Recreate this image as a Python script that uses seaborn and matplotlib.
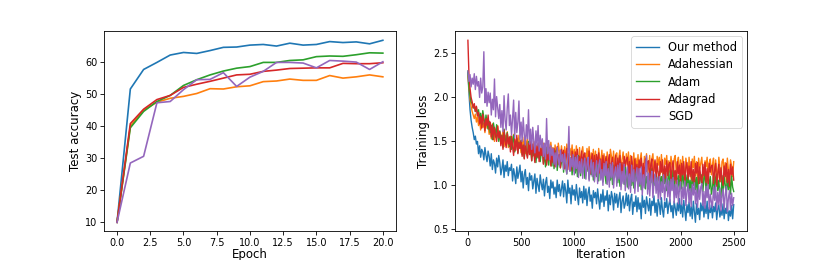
import matplotlib
matplotlib.use("Agg")
import matplotlib.pyplot as plt
import seaborn as sns

# ---------------- data ----------------
methods = ["Our method", "Adahessian", "Adam", "Adagrad", "SGD"]
colors = ["#1f77b4", "#ff7f0e", "#2ca02c", "#d62728", "#9467bd"]

epochs = list(range(0, 21))
acc_ours = [10.0, 51.6, 57.7, 59.9, 62.2, 63.0, 62.7, 63.6, 64.6, 64.7, 65.3,
            65.5, 65.0, 65.9, 65.3, 65.5, 66.4, 66.1, 66.3, 65.7, 66.8]
acc_adahessian = [10.0, 40.0, 45.0, 47.5, 48.7, 49.3, 50.2, 51.7, 51.6, 52.3, 52.6,
                  53.9, 54.1, 54.7, 54.3, 54.3, 55.8, 55.0, 55.4, 56.0, 55.4]
acc_adam = [10.0, 39.5, 44.6, 47.7, 49.6, 52.7, 54.5, 56.0, 57.2, 58.1, 58.6,
            59.9, 59.9, 60.5, 60.7, 61.7, 61.9, 61.8, 62.3, 62.9, 62.8]
acc_adagrad = [10.0, 40.8, 45.3, 48.3, 49.6, 52.1, 53.1, 54.0, 55.0, 56.0, 56.2,
               57.1, 57.5, 58.0, 58.1, 58.2, 58.2, 59.6, 59.5, 59.5, 59.8]
acc_sgd = [10.0, 28.5, 30.6, 47.3, 47.7, 51.4, 54.5, 54.6, 56.7, 52.4, 55.3,
           57.1, 59.9, 59.9, 59.7, 58.2, 60.5, 60.3, 60.0, 57.7, 60.1]

iterations = list(range(0, 2501, 10))
loss_ours = [
    2.28, 2.05, 1.86, 1.74, 1.66, 1.60, 1.52, 1.56, 1.47, 1.50,
    1.36, 1.45, 1.32, 1.41, 1.38, 1.29, 1.43, 1.34, 1.27, 1.39,
    1.33, 1.22, 1.36, 1.18, 1.29, 1.25, 1.14, 1.31, 1.21, 1.34,
    1.26, 1.12, 1.19, 1.29, 1.09, 1.23, 1.16, 1.27, 1.11, 1.20,
    1.17, 1.24, 1.05, 1.19, 1.12, 1.02, 1.21, 1.08, 1.15, 1.23,
    1.04, 1.16, 0.97, 1.12, 1.18, 1.01, 1.09, 0.94, 1.14, 1.06,
    1.11, 0.96, 1.05, 1.13, 0.91, 1.08, 1.00, 0.93, 1.12, 1.02,
    0.95, 1.07, 0.88, 1.03, 1.09, 0.92, 0.99, 0.85, 1.06, 0.97,
    1.04, 0.90, 0.98, 0.86, 1.06, 0.93, 1.01, 0.88, 0.96, 1.05,
    0.87, 1.02, 0.94, 0.80, 1.06, 0.91, 0.97, 0.79, 1.00, 0.89,
    0.95, 0.83, 1.01, 0.88, 0.78, 0.97, 0.86, 0.93, 0.80, 0.99,
    0.84, 0.96, 0.77, 0.91, 0.98, 0.82, 0.89, 0.74, 0.94, 0.86,
    0.92, 0.79, 0.96, 0.85, 0.73, 0.90, 0.81, 0.95, 0.76, 0.88,
    0.83, 0.94, 0.71, 0.89, 0.78, 0.93, 0.86, 0.72, 0.91, 0.80,
    0.90, 0.75, 0.85, 0.92, 0.69, 0.82, 0.88, 0.74, 0.79, 0.91,
    0.77, 0.89, 0.71, 0.84, 0.90, 0.67, 0.81, 0.76, 0.88, 0.70,
    0.86, 0.73, 0.80, 0.62, 0.89, 0.75, 0.83, 0.68, 0.87, 0.78,
    0.71, 0.85, 0.66, 0.82, 0.77, 0.88, 0.69, 0.80, 0.65, 0.84,
    0.79, 0.67, 0.86, 0.72, 0.64, 0.81, 0.75, 0.85, 0.68, 0.78,
    0.84, 0.70, 0.77, 0.63, 0.82, 0.74, 0.66, 0.80, 0.71, 0.85,
    0.68, 0.79, 0.64, 0.83, 0.72, 0.60, 0.78, 0.69, 0.81, 0.65,
    0.76, 0.62, 0.82, 0.70, 0.58, 0.79, 0.67, 0.74, 0.61, 0.80,
    0.71, 0.81, 0.64, 0.77, 0.68, 0.82, 0.62, 0.75, 0.69, 0.78,
    0.63, 0.76, 0.70, 0.80, 0.61, 0.73, 0.78, 0.64, 0.72, 0.66,
    0.79, 0.62, 0.74, 0.68, 0.80, 0.60, 0.71, 0.65, 0.77, 0.62,
    0.78]
loss_adahessian = [
    2.25, 2.10, 1.98, 1.90, 1.84, 1.80, 1.76, 1.81, 1.72, 1.78,
    1.68, 1.75, 1.63, 1.79, 1.66, 1.71, 1.60, 1.74, 1.65, 1.69,
    1.58, 1.67, 1.53, 1.70, 1.61, 1.50, 1.64, 1.56, 1.68, 1.52,
    1.60, 1.47, 1.55, 1.62, 1.44, 1.57, 1.50, 1.61, 1.43, 1.53,
    1.56, 1.42, 1.51, 1.58, 1.39, 1.49, 1.54, 1.41, 1.57, 1.46,
    1.37, 1.52, 1.44, 1.55, 1.36, 1.48, 1.53, 1.40, 1.50, 1.35,
    1.47, 1.33, 1.50, 1.39, 1.31, 1.46, 1.42, 1.49, 1.32, 1.44,
    1.36, 1.48, 1.30, 1.45, 1.40, 1.29, 1.47, 1.34, 1.49, 1.38,
    1.43, 1.28, 1.46, 1.35, 1.27, 1.48, 1.39, 1.31, 1.45, 1.33,
    1.30, 1.44, 1.26, 1.47, 1.37, 1.25, 1.42, 1.34, 1.46, 1.29,
    1.41, 1.24, 1.45, 1.32, 1.27, 1.43, 1.23, 1.38, 1.44, 1.28,
    1.35, 1.21, 1.42, 1.30, 1.44, 1.20, 1.37, 1.26, 1.41, 1.23,
    1.39, 1.25, 1.18, 1.42, 1.31, 1.22, 1.40, 1.19, 1.36, 1.28,
    1.20, 1.38, 1.27, 1.16, 1.41, 1.33, 1.21, 1.39, 1.17, 1.35,
    1.37, 1.19, 1.32, 1.40, 1.14, 1.29, 1.38, 1.22, 1.16, 1.36,
    1.24, 1.38, 1.15, 1.34, 1.27, 1.13, 1.37, 1.20, 1.31, 1.18,
    1.35, 1.12, 1.29, 1.37, 1.18, 1.11, 1.33, 1.25, 1.36, 1.14,
    1.21, 1.34, 1.10, 1.30, 1.36, 1.16, 1.27, 1.09, 1.33, 1.23,
    1.32, 1.13, 1.35, 1.19, 1.08, 1.31, 1.24, 1.34, 1.11, 1.28,
    1.15, 1.33, 1.22, 1.07, 1.30, 1.34, 1.12, 1.26, 1.32, 1.09,
    1.29, 1.10, 1.33, 1.18, 1.06, 1.31, 1.23, 1.08, 1.32, 1.16,
    1.07, 1.30, 1.20, 1.33, 1.11, 1.27, 1.05, 1.31, 1.19, 1.25,
    1.32, 1.14, 1.06, 1.28, 1.21, 1.32, 1.09, 1.26, 1.30, 1.12,
    1.24, 1.31, 1.05, 1.29, 1.16, 1.08, 1.32, 1.20, 1.04, 1.27,
    1.30, 1.13, 1.26, 1.04, 1.31, 1.18, 1.07, 1.29, 1.22, 1.10,
    1.27]
loss_adam = [
    2.30, 2.12, 2.02, 1.95, 1.93, 1.88, 1.91, 1.84, 1.89, 1.80,
    1.86, 1.74, 1.82, 1.69, 1.85, 1.77, 1.66, 1.80, 1.72, 1.64,
    1.73, 1.60, 1.68, 1.52, 1.71, 1.63, 1.55, 1.69, 1.58, 1.50,
    1.62, 1.49, 1.57, 1.43, 1.64, 1.53, 1.46, 1.60, 1.51, 1.44,
    1.55, 1.41, 1.50, 1.57, 1.38, 1.47, 1.53, 1.37, 1.49, 1.42,
    1.51, 1.35, 1.45, 1.31, 1.48, 1.39, 1.33, 1.50, 1.36, 1.43,
    1.28, 1.44, 1.34, 1.47, 1.26, 1.40, 1.31, 1.45, 1.27, 1.37,
    1.42, 1.25, 1.36, 1.21, 1.43, 1.30, 1.23, 1.39, 1.28, 1.22,
    1.38, 1.19, 1.33, 1.40, 1.17, 1.29, 1.35, 1.20, 1.26, 1.37,
    1.15, 1.34, 1.22, 1.13, 1.36, 1.27, 1.17, 1.32, 1.12, 1.25,
    1.33, 1.14, 1.28, 1.10, 1.34, 1.21, 1.11, 1.30, 1.18, 1.27,
    1.08, 1.29, 1.16, 1.31, 1.07, 1.24, 1.12, 1.28, 1.06, 1.20,
    1.27, 1.10, 1.23, 1.05, 1.29, 1.14, 1.19, 1.04, 1.26, 1.11,
    1.02, 1.24, 1.13, 1.26, 1.06, 1.20, 1.01, 1.23, 1.09, 1.17,
    1.22, 1.03, 1.18, 0.99, 1.24, 1.08, 1.15, 1.01, 1.21, 1.11,
    0.98, 1.20, 1.07, 1.22, 1.00, 1.14, 0.97, 1.19, 1.05, 1.16,
    1.21, 0.99, 1.13, 0.95, 1.18, 1.04, 1.20, 0.96, 1.10, 1.02,
    0.96, 1.17, 1.03, 1.19, 0.94, 1.12, 1.00, 1.18, 0.95, 1.09,
    1.16, 0.98, 1.10, 0.93, 1.18, 1.02, 1.14, 0.94, 1.07, 1.17,
    0.95, 1.13, 1.01, 1.17, 0.92, 1.08, 1.15, 0.97, 1.11, 0.93,
    1.14, 0.96, 1.16, 1.03, 0.91, 1.12, 0.99, 1.15, 0.94, 1.06,
    0.92, 1.13, 1.00, 1.15, 0.95, 1.09, 0.90, 1.14, 1.02, 1.11,
    1.12, 0.93, 1.08, 1.14, 0.91, 1.05, 1.13, 0.96, 1.10, 0.90,
    0.97, 1.12, 0.92, 1.09, 1.13, 0.94, 1.06, 0.88, 0.86, 1.11,
    0.91, 1.10, 1.01, 0.89, 1.12, 0.95, 1.08, 0.90, 1.11, 0.98,
    0.93]
loss_adagrad = [
    2.65, 2.25, 2.10, 2.00, 1.95, 1.88, 1.93, 1.84, 1.90, 1.79,
    1.83, 1.70, 1.78, 1.65, 1.81, 1.73, 1.62, 1.76, 1.68, 1.80,
    1.64, 1.72, 1.55, 1.69, 1.52, 1.66, 1.58, 1.50, 1.67, 1.54,
    1.61, 1.45, 1.57, 1.41, 1.63, 1.50, 1.43, 1.59, 1.47, 1.55,
    1.38, 1.56, 1.44, 1.34, 1.53, 1.40, 1.57, 1.36, 1.49, 1.42,
    1.51, 1.33, 1.46, 1.30, 1.52, 1.38, 1.31, 1.48, 1.35, 1.50,
    1.28, 1.47, 1.36, 1.26, 1.45, 1.32, 1.48, 1.27, 1.42, 1.34,
    1.44, 1.24, 1.39, 1.45, 1.23, 1.37, 1.29, 1.43, 1.22, 1.40,
    1.26, 1.42, 1.21, 1.38, 1.44, 1.24, 1.35, 1.20, 1.41, 1.30,
    1.40, 1.19, 1.33, 1.42, 1.18, 1.36, 1.25, 1.17, 1.39, 1.28,
    1.16, 1.38, 1.27, 1.41, 1.15, 1.33, 1.20, 1.39, 1.22, 1.35,
    1.37, 1.14, 1.31, 1.18, 1.39, 1.13, 1.29, 1.36, 1.17, 1.34,
    1.12, 1.35, 1.24, 1.37, 1.14, 1.30, 1.11, 1.34, 1.21, 1.27,
    1.33, 1.10, 1.28, 1.35, 1.13, 1.25, 1.32, 1.11, 1.19, 1.34,
    1.09, 1.31, 1.17, 1.34, 1.10, 1.26, 1.08, 1.33, 1.22, 1.29,
    1.32, 1.12, 1.27, 1.07, 1.33, 1.18, 1.09, 1.30, 1.14, 1.24,
    1.06, 1.29, 1.20, 1.31, 1.08, 1.25, 1.05, 1.30, 1.16, 1.27,
    1.28, 1.07, 1.23, 1.30, 1.04, 1.19, 1.29, 1.09, 1.25, 1.13,
    1.05, 1.27, 1.15, 1.29, 1.03, 1.22, 1.08, 1.28, 1.11, 1.24,
    1.26, 1.04, 1.21, 1.28, 1.06, 1.17, 1.02, 1.27, 1.13, 1.23,
    1.03, 1.25, 1.12, 1.27, 1.01, 1.20, 1.26, 1.07, 1.22, 1.10,
    1.27, 1.05, 1.18, 1.00, 1.25, 1.14, 1.26, 1.02, 1.21, 1.09,
    1.01, 1.24, 1.11, 1.26, 1.03, 1.19, 1.00, 1.25, 1.15, 1.22,
    1.23, 1.02, 1.17, 1.25, 0.99, 1.13, 1.24, 1.04, 1.20, 1.08,
    1.00, 1.22, 1.10, 1.25, 1.03, 1.18, 0.99, 1.24, 1.12, 1.21,
    1.06]
loss_sgd = [
    2.30, 2.18, 2.26, 2.12, 2.22, 2.15, 2.27, 2.09, 2.24, 2.13,
    2.18, 2.00, 2.22, 2.05, 2.12, 2.52, 1.94, 2.10, 1.90, 2.06,
    1.94, 2.05, 1.80, 1.98, 1.86, 2.21, 1.78, 2.01, 1.88, 1.76,
    1.92, 1.66, 1.85, 1.61, 2.02, 1.74, 1.63, 1.88, 2.04, 1.68,
    1.80, 1.57, 1.76, 1.97, 1.54, 1.83, 1.60, 1.72, 1.96, 1.52,
    1.72, 1.50, 1.77, 1.58, 1.46, 1.69, 1.53, 1.86, 1.47, 1.64,
    1.41, 1.66, 1.50, 1.37, 1.62, 1.45, 1.68, 1.39, 1.57, 1.43,
    1.53, 1.33, 1.48, 1.30, 1.76, 1.36, 1.51, 1.29, 1.45, 1.34,
    1.42, 1.24, 1.37, 1.21, 1.43, 1.30, 1.22, 1.40, 1.27, 1.35,
    1.18, 1.36, 1.25, 1.13, 1.33, 1.67, 1.16, 1.31, 1.21, 1.35,
    1.12, 1.32, 1.19, 1.34, 1.09, 1.27, 1.14, 1.30, 1.08, 1.23,
    1.31, 1.07, 1.24, 1.32, 1.05, 1.20, 1.29, 1.10, 1.26, 1.04,
    1.15, 1.28, 1.02, 1.22, 1.29, 1.06, 1.18, 1.00, 1.25, 1.11,
    1.27, 1.01, 1.19, 0.98, 1.24, 1.09, 1.26, 0.97, 1.14, 1.21,
    0.99, 1.23, 1.07, 1.25, 0.95, 1.16, 1.02, 1.24, 0.94, 1.12,
    1.21, 0.96, 1.13, 0.92, 1.23, 1.04, 1.18, 0.91, 1.10, 1.20,
    0.93, 1.19, 1.01, 1.21, 0.89, 1.12, 0.97, 1.17, 1.34, 0.90,
    1.14, 0.88, 1.07, 1.16, 0.86, 1.02, 1.13, 0.91, 1.09, 0.85,
    1.10, 0.84, 1.04, 0.92, 1.12, 0.83, 0.99, 1.08, 0.87, 1.05,
    0.81, 1.07, 0.94, 1.09, 0.80, 1.01, 0.86, 1.06, 0.79, 0.97,
    1.04, 0.78, 0.98, 0.85, 1.05, 0.77, 0.93, 1.02, 0.80, 0.96,
    0.76, 1.01, 0.89, 1.03, 0.79, 0.95, 0.75, 1.00, 0.84, 0.98,
    1.02, 0.77, 0.93, 0.74, 0.99, 0.86, 1.01, 0.73, 0.90, 0.81,
    0.75, 0.98, 0.83, 1.00, 0.72, 0.92, 0.78, 0.97, 0.71, 0.88,
    0.96, 0.73, 0.89, 0.99, 0.70, 0.85, 0.94, 0.72, 0.91, 0.77,
    0.86]

acc_series = [acc_ours, acc_adahessian, acc_adam, acc_adagrad, acc_sgd]
loss_series = [loss_ours, loss_adahessian, loss_adam, loss_adagrad, loss_sgd]

# ---------------- plot ----------------
fig, (ax1, ax2) = plt.subplots(1, 2, figsize=(8.3, 2.6), dpi=100)
fig.subplots_adjust(left=0.125, right=0.9, bottom=0.11, top=0.88, wspace=0.2)

for name, col, vals in zip(methods, colors, acc_series):
    sns.lineplot(x=epochs, y=vals, ax=ax1, color=col, linewidth=1.2,
                 estimator=None, legend=False)
for name, col, vals in zip(methods, colors, loss_series):
    sns.lineplot(x=iterations, y=vals, ax=ax2, color=col, linewidth=1.0,
                 estimator=None, label=name)

ax1.set_xlabel("Epoch", fontsize=8.5, labelpad=0)
ax1.set_ylabel("Test accuracy", fontsize=8.5, labelpad=2)
ax2.set_xlabel("Iteration", fontsize=8.5, labelpad=0)
ax2.set_ylabel("Training loss", fontsize=8.5, labelpad=2)
ax1.set_xticks([0, 2.5, 5, 7.5, 10, 12.5, 15, 17.5, 20])
ax1.set_yticks([10, 20, 30, 40, 50, 60])
ax2.set_yticks([0.5, 1.0, 1.5, 2.0, 2.5])
ax2.set_xticks([0, 500, 1000, 1500, 2000, 2500])
for ax in (ax1, ax2):
    ax.tick_params(labelsize=7, length=2.9, width=0.6, pad=1.5)
    for s in ax.spines.values():
        s.set_linewidth(0.6)

leg = ax2.legend(loc="upper right", fontsize=8.3, handlelength=2.0,
                 borderpad=0.4, labelspacing=0.37, handletextpad=0.8,
                 borderaxespad=0.45)
leg.get_frame().set_linewidth(0.6)
for h in leg.get_lines():
    h.set_linewidth(1.0)

fig.savefig("out.png", dpi=100)
